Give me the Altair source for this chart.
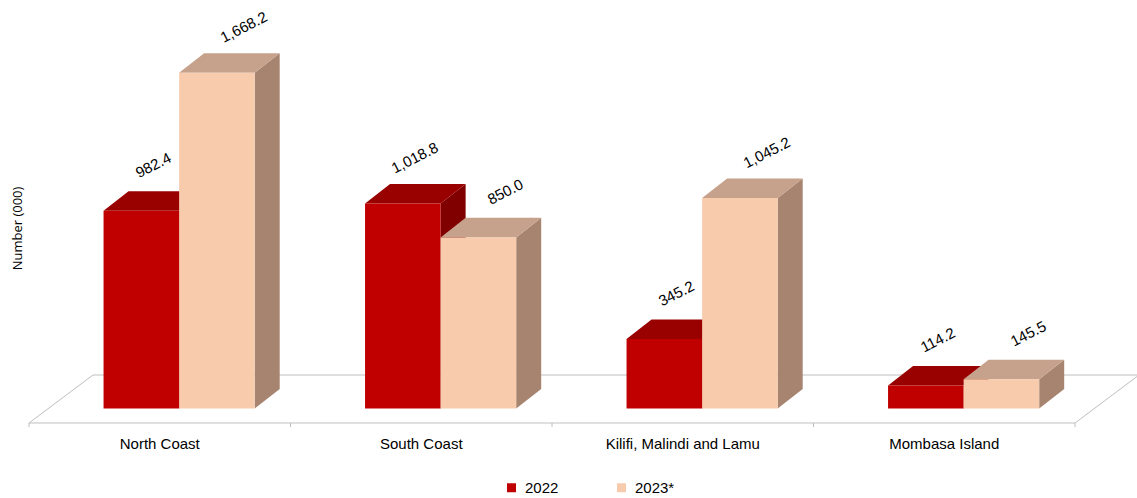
import altair as alt
import pandas as pd

# ---- data -------------------------------------------------------------
categories = ["North Coast", "South Coast", "Kilifi, Malindi and Lamu", "Mombasa Island"]
series = ["2022", "2023*"]
values_2022 = [982.4, 1018.8, 345.2, 114.2]
values_2023 = [1668.2, 850.0, 1045.2, 145.5]

# ---- geometry of the oblique "3-D" drawing -----------------------------
# x runs in category units (category i spans [i, i+1] on the floor's front edge),
# y runs in the data units (thousands).
X_DOMAIN = [-0.111, 4.237]
Y_DOMAIN = [-444.6, 2029.3]

BAR_W = 0.289            # width of one bar
PAIR_CENTER = 0.574      # where the two bars of a category meet
BAR_DX, BAR_DY = 0.0956, 97.0      # depth of each bar
FLOOR_DX, FLOOR_DY = 0.2447, 238.4  # depth of the floor
FLOOR_FRONT = -72.0                 # floor front edge (bars stand on 0)
TICK_LEN = 20.0
CAT_LABEL_Y = -175.0
VAL_LABEL_DX = {"2022": 0.046, "2023*": 0.103}
VAL_LABEL_DY = 226.0

FRONT = {"2022": "#C00000", "2023*": "#F8CBAD"}
TOP = {"2022": "#990000", "2023*": "#C6A18B"}
SIDE = {"2022": "#800000", "2023*": "#A6846F"}

SANS = "Liberation Sans, Arial, sans-serif"

# ---- tables built from the arrays -------------------------------------
fronts, tops, sides = [], [], []
for i, cat in enumerate(categories):
    for s, vals in zip(series, [values_2022, values_2023]):
        v = vals[i]
        x0 = i + PAIR_CENTER - (BAR_W if s == "2022" else 0.0)
        x1 = x0 + BAR_W
        bar = f"{cat}|{s}"
        fronts.append({
            "category": cat, "series": s, "base": 0.0, "value": v,
            "x0": x0, "x1": x1,
            "lx": (x0 + x1) / 2 + VAL_LABEL_DX[s], "ly": v + VAL_LABEL_DY,
            "label": f"{v:,.1f}",
        })
        # top face as an area: lower/upper bounds at four x breakpoints
        for x, lo, hi in [(x0, v, v), (x0 + BAR_DX, v, v + BAR_DY),
                          (x1, v, v + BAR_DY), (x1 + BAR_DX, v + BAR_DY, v + BAR_DY)]:
            tops.append({"bar": bar, "x": x, "lo": lo, "hi": hi, "fill": TOP[s]})
        # right side face
        for x, lo, hi in [(x1, 0.0, v), (x1 + BAR_DX, BAR_DY, v + BAR_DY)]:
            sides.append({"bar": bar, "x": x, "lo": lo, "hi": hi, "fill": SIDE[s]})

front_df = pd.DataFrame(fronts)
top_df = pd.DataFrame(tops)
side_df = pd.DataFrame(sides)

n = len(categories)
floor_df = pd.DataFrame({
    "x": [0, n, n + FLOOR_DX, FLOOR_DX, 0],
    "y": [FLOOR_FRONT, FLOOR_FRONT, FLOOR_FRONT + FLOOR_DY, FLOOR_FRONT + FLOOR_DY, FLOOR_FRONT],
    "o": [0, 1, 2, 3, 4],
})
tick_df = pd.DataFrame({"x": list(range(n + 1))})
tick_df["y"] = FLOOR_FRONT
tick_df["y2"] = FLOOR_FRONT - TICK_LEN
cat_df = pd.DataFrame({"category": categories, "x": [i + 0.5 for i in range(n)]})
cat_df["y"] = CAT_LABEL_Y

xs = alt.Scale(domain=X_DOMAIN, nice=False, zero=False)
ys = alt.Scale(domain=Y_DOMAIN, nice=False, zero=False)

# the value axis shows only its title; labels, ticks and line are hidden
y_axis = alt.Axis(
    title="Number (000)", labels=False, ticks=False, domain=False, grid=False,
    titleX=17, titleY=228, titleAngle=270, titleAlign="center",
    titleBaseline="middle", titleFont="Open Sans", titleFontSize=13,
    titleFontWeight="normal", titleColor="#000000",
)


def X(f):
    return alt.X(f, type="quantitative", scale=xs, axis=None)


def Y(f):
    return alt.Y(f, type="quantitative", scale=ys, axis=y_axis, title="Number (000)")


floor = alt.Chart(floor_df).mark_line(color="#BFBFBF", strokeWidth=1).encode(
    x=X("x"), y=Y("y"), order="o:Q"
)
ticks = alt.Chart(tick_df).mark_rule(color="#BFBFBF", strokeWidth=1).encode(
    x=X("x"), y=Y("y"), y2="y2:Q"
)
side_faces = alt.Chart(side_df).mark_area(opacity=1).encode(
    x=X("x"), y=Y("lo"), y2="hi:Q", detail="bar:N",
    fill=alt.Fill("fill:N", scale=None),
)
top_faces = alt.Chart(top_df).mark_area(opacity=1).encode(
    x=X("x"), y=Y("lo"), y2="hi:Q", detail="bar:N",
    fill=alt.Fill("fill:N", scale=None),
)
front_faces = alt.Chart(front_df).mark_rect().encode(
    x=X("x0"), x2="x1:Q",
    y=Y("base"),
    y2="value:Q",
    color=alt.Color("series:N", scale=alt.Scale(domain=series, range=[FRONT[s] for s in series]),
                    legend=alt.Legend(
                        title=None, orient="none", legendX=504, legendY=480,
                        direction="horizontal", symbolType="square", symbolSize=81,
                        symbolStrokeWidth=0, labelFont=SANS, labelFontSize=15,
                        labelColor="#000000", labelOffset=6, columnPadding=55, padding=0,
                    )),
)
value_labels = alt.Chart(front_df).mark_text(
    angle=333, align="center", baseline="middle", font=SANS, fontSize=15, color="#000000"
).encode(x=X("lx"), y=Y("ly"), text="label:N")
cat_labels = alt.Chart(cat_df).mark_text(
    align="center", baseline="middle", font=SANS, fontSize=15, color="#000000"
).encode(x=X("x"), y=Y("y"), text="category:N")

chart = alt.layer(
    floor, ticks, side_faces, top_faces, front_faces, value_labels, cat_labels
).properties(
    width=1137, height=498, autosize=alt.AutoSizeParams(type="none"), padding=0,
    background="#FFFFFF",
).configure_view(stroke=None)

chart.save("out.html", embed_options={"renderer": "svg", "actions": False})
